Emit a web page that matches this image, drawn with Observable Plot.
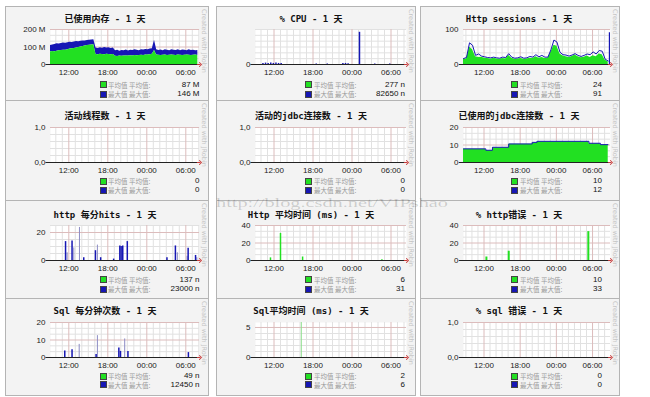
<!DOCTYPE html>
<html><head><meta charset="utf-8">
<script src="https://cdn.jsdelivr.net/npm/d3@7"></script>
<script src="https://cdn.jsdelivr.net/npm/@observablehq/plot@0.6"></script>
<style>
body{margin:0;background:#fff;}
#root{position:relative;width:650px;height:397px;overflow:hidden;background:#fff;}
.cell{position:absolute;box-sizing:border-box;border:1px solid #b4b4b4;background:#f3f3f3;}
.title{position:absolute;transform:translate(-50%,-50%);font:bold 9px/1.1 "DejaVu Sans Mono","Noto Sans CJK SC",monospace;white-space:nowrap;color:#111;}
.jr{position:absolute;writing-mode:vertical-rl;font:6.5px/1 "DejaVu Sans",sans-serif;color:#c6c6c6;white-space:nowrap;}
.sw{position:absolute;box-sizing:border-box;width:7px;height:7px;border:1px solid #444;}
.ll{position:absolute;font:6.5px/1 "Noto Sans CJK SC",sans-serif;color:#9a9a9a;transform:translateY(-50%);white-space:nowrap;}
.lv{position:absolute;font:8px/1 "Liberation Sans",sans-serif;color:#111;transform:translate(-100%,-50%);white-space:nowrap;}
svg.plotsvg{position:absolute;overflow:visible;}
#wm{position:absolute;left:0;top:0;pointer-events:none;}
</style></head>
<body><div id="root"></div>
<script>
// ---------- data ----------
const xTickHours = [12, 18, 24, 30];
const xTickLabels = ["12:00", "18:00", "00:00", "06:00"];

const titles = ["已使用内存 - 1 天", "% CPU - 1 天", "Http sessions - 1 天",
  "活动线程数 - 1 天", "活动的jdbc连接数 - 1 天", "已使用的jdbc连接数 - 1 天",
  "http 每分hits - 1 天", "Http 平均时间 (ms) - 1 天", "% http错误 - 1 天",
  "Sql 每分钟次数 - 1 天", "Sql平均时间 (ms) - 1 天", "% sql 错误 - 1 天"];
const legendMeanLabel = "平均值 平均值:";
const legendMaxLabel = "最大值 最大值:";
const legendMeanValues = ["87 M", "277 n", "24", "0", "0", "10", "137 n", "6", "10", "49 n", "2", "0"];
const legendMaxValues = ["146 M", "82650 n", "91", "0", "0", "12", "23000 n", "31", "33", "12450 n", "6", "0"];

// memory (M), one sample every 20 minutes
const memMean = [72,74,73,76,78,80,82,81,85,88,90,92,95,97,100,103,106,108,110,112,113,
  57,56,58,57,56,58,57,56,57,
  47,46,48,47,48,49,48,50,49,51,50,52,53,52,54,55,56,58,
  80,
  54,53,52,53,54,52,53,54,53,52,54,53,52,53,54,53,52,53,54,52];
const memMax = [109,112,115,118,117,120,123,121,125,127,126,129,131,130,133,135,134,137,139,140,141,
  95,92,96,93,97,94,96,92,95,
  78,82,76,80,79,83,77,81,80,84,82,79,85,83,86,84,88,90,
  138,
  85,80,83,78,84,81,79,85,82,80,84,78,83,81,79,84,80,82,78,80];

// % CPU spikes
const cpuTimes = [10.3,10.7,11.1,11.5,11.9,12.3,12.7,13.1,18.5,20.2,22.6,23.0,23.4,25.15,27.5,29.8];
const cpuMax = [3,4,3,4,3,4,3,3,1.5,1.5,3,3,2.5,92,1.5,1.5];

// http sessions, one sample every 30 minutes
const sessMean = [15,16,50,42,22,20,21,18,17,15,18,16,15,17,16,26,18,15,16,17,15,16,18,17,22,18,20,17,18,35,55,52,30,24,22,20,23,27,22,19,21,24,20,25,22,30,28,12,8];
const sessMax = [17,20,62,55,26,30,24,22,20,19,21,19,18,21,20,31,21,18,19,22,18,19,23,21,28,22,26,21,21,42,70,64,35,28,27,24,27,31,26,23,26,30,28,36,30,40,38,15,10];
const sessPeakTime = [32.8];
const sessPeakValue = [91];

// flat series
const threadsMean = [0, 0];
const jdbcActiveMean = [0, 0];
const sqlErrMean = [0, 0];

// used jdbc connections (steps)
const jdbcUsedStarts = [8.6, 12.3, 13.4, 16.1, 20.0, 20.8, 29.4, 31.3, 32.6];
const jdbcUsedMean = [7.6, 6.8, 8.5, 10.4, 11.2, 11.8, 10.7, 10, 10];
const jdbcUsedMax = [7.8, 7, 8.7, 10.6, 11.5, 12.1, 11, 10.2, 10.2];

// http hits spikes
const hitsTimes = [11.5,12.5,14.3,16.1,16.9,18.9,19.85,20.05,20.3,21.0,27.1,28.4,30.36,31.5];
const hitsMax = [13.5,14,2,7,2,1,10.4,10,10.4,13.5,2,10.4,8.7,3.6];
const hitsThinTimes = [11.74,12.77,13.64,16.4,28.7,30.2,31.7];
const hitsThinMax = [5.5,9,23.6,11,5.5,3,2];

// http mean time (ms)
const httpTimeTimes = [11.46, 13.0, 16.4, 28.6];
const httpTimeMean = [3, 31, 4, 1];

// % http errors
const httpErrTimes = [12.4, 16.1, 29.3];
const httpErrMean = [4, 10.6, 33];

// sql hits spikes
const sqlHitsTimes = [11.38,12.5,16.2,19.7,19.95,21.1,30.4];
const sqlHitsMax = [3.7,4.5,1.7,5.4,3.5,3.5,2.8];
const sqlHitsThinTimes = [13.6,16.4,20.6];
const sqlHitsThinMax = [7.5,12.5,10.6];

// sql mean time (ms)
const sqlTimeTimes = [16.2];
const sqlTimeMean = [6];

// ---------- layout ----------
const GREEN = "#22e022", BLUE = "#1616b4";
const MINOR = "#e1e1e1", MAJOR = "#dcbcbc";
const cols = [
  {left: 50, px12: 68.3, pph: 6.5, right: 199, sq: 99.5, lab: 108, val: 199.5, jr: 200.5, tc: 105, cx: [5, 208]},
  {left: 255, px12: 273.5, pph: 6.5, right: 406, sq: 305, lab: 314, val: 405, jr: 407.5, tc: 311, cx: [216, 415]},
  {left: 463, px12: 483.5, pph: 6.03, right: 610, sq: 511, lab: 520, val: 602, jr: 611, tc: 519, cx: [420, 619]}
];
const rows = [
  {top: 29, axis: 64, title: 20, l1: 84.5, l2: 94, cy: [6, 100]},
  {top: 127, axis: 162, title: 117, l1: 181, l2: 190, cy: [100, 200]},
  {top: 224.5, axis: 259.5, title: 216, l1: 279.5, l2: 289, cy: [200, 298]},
  {top: 322, axis: 357, title: 312, l1: 376, l2: 384.5, cy: [298, 395]}
];
function dom(c) { return [12 - (c.px12 - c.left) / c.pph, 12 + (c.right - c.px12) / c.pph]; }

const zip = (t, v) => t.map((x, i) => ({t: x, v: v[i]}));
const spikes = (t, v, stroke, w, op) => Plot.ruleX(zip(t, v), {x: "t", y1: 0, y2: "v", stroke, strokeWidth: w, strokeOpacity: op ?? 1, clip: true});

const memT = memMean.map((_, i) => dom(cols[0])[0] + i / 3);
const memData = memT.map((t, i) => ({t, mean: memMean[i], max: memMax[i]}));
const sessT = sessMean.map((_, i) => dom(cols[2])[0] + i * 0.5);
const sessData = sessT.map((t, i) => ({t, mean: sessMean[i], max: sessMax[i]}));
const jdbcData = jdbcUsedStarts.map((t, i) => ({t, mean: jdbcUsedMean[i], max: jdbcUsedMax[i]}));
const flat = (arr, c) => arr.map((v, i) => ({t: dom(c)[i], v}));

const panels = [
  {y: [0, 200], yt: [0, 100, 200], yl: ["0", "100 M", "200 M"], minor: 100 / 3,
   marks: () => [Plot.areaY(memData, {x: "t", y1: "mean", y2: "max", fill: BLUE}),
                 Plot.areaY(memData, {x: "t", y: "mean", fill: GREEN})]},
  {y: [0, 100], yt: [0], yl: ["0"], minor: 100 / 6,
   marks: () => [spikes(cpuTimes, cpuMax, BLUE, 1.5)]},
  {y: [0, 100], yt: [0, 100], yl: ["0", "100"], minor: 100 / 6,
   marks: () => [Plot.areaY(sessData, {x: "t", y: "mean", fill: GREEN}),
                 Plot.lineY(sessData, {x: "t", y: "max", stroke: BLUE, strokeWidth: 1}),
                 spikes(sessPeakTime, sessPeakValue, BLUE, 1.2)]},
  {y: [0, 1], yt: [0, 1], yl: ["0,0", "1,0"], minor: 0.2,
   marks: () => [Plot.areaY(flat(threadsMean, cols[0]), {x: "t", y: "v", fill: GREEN})]},
  {y: [0, 1], yt: [0, 1], yl: ["0,0", "1,0"], minor: 0.2,
   marks: () => [Plot.areaY(flat(jdbcActiveMean, cols[1]), {x: "t", y: "v", fill: GREEN})]},
  {y: [0, 20], yt: [0, 10, 20], yl: ["0", "10", "20"], minor: 10 / 3,
   marks: () => [Plot.areaY(jdbcData, {x: "t", y: "mean", fill: GREEN, curve: "step-after"}),
                 Plot.lineY(jdbcData, {x: "t", y: "max", stroke: BLUE, strokeWidth: 1, curve: "step-after"})]},
  {y: [0, 25], yt: [0, 20], yl: ["0", "20"], minor: 5,
   marks: () => [spikes(hitsThinTimes, hitsThinMax, "#8c8cc4", 1),
                 spikes(hitsTimes, hitsMax, BLUE, 1.5)]},
  {y: [0, 40], yt: [0, 20, 40], yl: ["0", "20", "40"], minor: 20 / 3,
   marks: () => [spikes(httpTimeTimes, httpTimeMean, GREEN, 1.5)]},
  {y: [0, 40], yt: [0, 20, 40], yl: ["0", "20", "40"], minor: 20 / 3,
   marks: () => [spikes(httpErrTimes, httpErrMean, GREEN, 2)]},
  {y: [0, 20], yt: [0, 10, 20], yl: ["0", "10", "20"], minor: 10 / 3,
   marks: () => [spikes(sqlHitsThinTimes, sqlHitsThinMax, "#8c8cc4", 1),
                 spikes(sqlHitsTimes, sqlHitsMax, BLUE, 1.5)]},
  {y: [0, 5.83], yt: [0, 5], yl: ["0", "5"], minor: 1,
   marks: () => [spikes(sqlTimeTimes, sqlTimeMean, "#8fe08f", 1)]},
  {y: [0, 1], yt: [0, 1], yl: ["0,0", "1,0"], minor: 0.2,
   marks: () => [Plot.areaY(flat(sqlErrMean, cols[2]), {x: "t", y: "v", fill: GREEN})]}
];

const root = document.getElementById("root");
function add(cls, css, text) {
  const d = document.createElement("div");
  d.className = cls;
  Object.assign(d.style, css);
  if (text != null) d.textContent = text;
  root.appendChild(d);
  return d;
}

panels.forEach((p, k) => {
  const c = cols[k % 3], r = rows[Math.floor(k / 3)];
  add("cell", {left: c.cx[0] + "px", top: r.cy[0] + "px", width: (c.cx[1] - c.cx[0] + 1) + "px", height: (r.cy[1] - r.cy[0] + 1) + "px"});
  add("title", {left: c.tc + "px", top: r.title + "px"}, titles[k]);
  add("jr", {left: c.jr + "px", top: (r.cy[0] + 3) + "px"}, "Created with JRobin");

  const [x0, x1] = dom(c);
  const mL = 40, mR = 8, mT = 3, mB = 16;
  const W = c.right - c.left, H = r.axis - r.top;
  const minorX = d3.range(Math.ceil(x0), x1).filter(h => !xTickHours.includes(h));
  const minorY = d3.range(0, p.y[1] + 1e-9, p.minor).filter(v => !p.yt.some(t => Math.abs(t - v) < 1e-6));
  const marks = [
    Plot.frame({fill: "#fff", stroke: null}),
    Plot.ruleX(minorX, {stroke: MINOR}),
    Plot.ruleY(minorY, {stroke: MINOR}),
    Plot.ruleX(xTickHours, {stroke: MAJOR}),
    Plot.ruleY(p.yt.filter(v => v !== 0), {stroke: MAJOR}),
    ...p.marks(),
    Plot.ruleY([0], {x1: x0 - 0.7, x2: x1, stroke: "#222", strokeWidth: 1.2, clip: false}),
    Plot.link([{a: x1 - 0.4, b: x1 + 0.15}], {x1: "a", x2: "b", y1: 0, y2: 0, stroke: "#c83c3c", strokeWidth: 1, markerEnd: "arrow"})
  ];
  const svg = Plot.plot({
    width: W + mL + mR, height: H + mT + mB,
    marginLeft: mL, marginRight: mR, marginTop: mT, marginBottom: mB,
    x: {domain: [x0, x1], ticks: xTickHours, tickFormat: d => xTickLabels[xTickHours.indexOf(d)], tickSize: 0, tickPadding: 5, label: null},
    y: {domain: p.y, ticks: p.yt, tickFormat: d => p.yl[p.yt.indexOf(d)], tickSize: 0, tickPadding: 5, label: null},
    style: {background: "transparent", fontFamily: "Liberation Sans, sans-serif", fontSize: "8px", color: "#222", overflow: "visible"},
    marks
  });
  svg.classList.add("plotsvg");
  svg.style.left = (c.left - mL) + "px";
  svg.style.top = (r.top - mT) + "px";
  root.appendChild(svg);

  add("sw", {left: c.sq + "px", top: (r.l1 - 3.5) + "px", background: GREEN});
  add("sw", {left: c.sq + "px", top: (r.l2 - 3.5) + "px", background: BLUE});
  add("ll", {left: c.lab + "px", top: r.l1 + "px"}, legendMeanLabel);
  add("ll", {left: c.lab + "px", top: r.l2 + "px"}, legendMaxLabel);
  add("lv", {left: c.val + "px", top: r.l1 + "px"}, legendMeanValues[k]);
  add("lv", {left: c.val + "px", top: r.l2 + "px"}, legendMaxValues[k]);
});

// watermark
const ns = "http://www.w3.org/2000/svg";
const wm = document.createElementNS(ns, "svg");
wm.setAttribute("id", "wm"); wm.setAttribute("width", 650); wm.setAttribute("height", 397);
const wt = document.createElementNS(ns, "text");
wt.setAttribute("x", 216); wt.setAttribute("y", 207);
wt.setAttribute("textLength", 232); wt.setAttribute("lengthAdjust", "spacingAndGlyphs");
wt.setAttribute("font-family", "Liberation Serif, serif"); wt.setAttribute("font-size", 13.5);
wt.setAttribute("fill", "#000"); wt.setAttribute("fill-opacity", 0.17);
wt.textContent = "http://blog.csdn.net/VIPshao";
wm.appendChild(wt);
root.appendChild(wm);
</script></body></html>
